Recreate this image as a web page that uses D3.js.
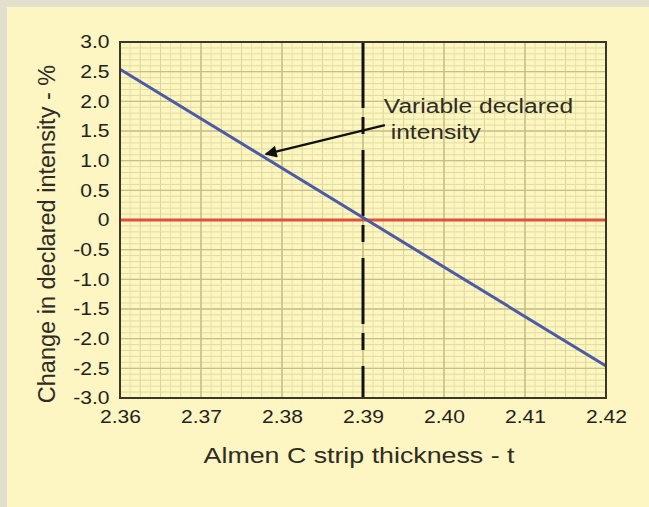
<!DOCTYPE html>
<html>
<head>
<meta charset="utf-8">
<script src="https://cdn.jsdelivr.net/npm/d3@7"></script>
<style>
  body { margin: 0; background: #fff; }
  svg { display: block; font-family: "Liberation Sans", Arial, sans-serif; }
</style>
</head>
<body>
<div id="chart"></div>
<script>
var width = 649,
    height = 507;

var margin = {top: 42, right: 43, bottom: 109, left: 120};

// data
var xDomain = [2.36, 2.42];
var yDomain = [-3.0, 3.0];
var xTicks = [2.36, 2.37, 2.38, 2.39, 2.40, 2.41, 2.42];
var yTicks = [3.0, 2.5, 2.0, 1.5, 1.0, 0.5, 0, -0.5, -1.0, -1.5, -2.0, -2.5, -3.0];
var lineX = [2.36, 2.42];
var lineY = [2.54, -2.46];          // variable declared intensity
var zeroY = [0, 0];                 // reference line
var markerX = 2.39;                 // dashed vertical
var arrowFrom = [2.3927, 1.60];
var arrowTo = [2.3780, 1.11];
var noteLines = ["Variable declared", " intensity"];

// the source picture is a bit wider than tall, so text gets stretched
var stretch = 1.17;

var svg = d3.select("#chart")
  .append("svg")
    .attr("width", width)
    .attr("height", height);

// outer frame
svg.append("rect").attr("width", width).attr("height", height).attr("fill", "#e2e0cc");
svg.append("rect").attr("x", 7).attr("y", 7).attr("width", width - 7).attr("height", height - 7).attr("fill", "#fdf5c2");

var iw = width - margin.left - margin.right,
    ih = height - margin.top - margin.bottom;

var x = d3.scaleLinear().domain(xDomain).range([0, iw]);
var y = d3.scaleLinear().domain(yDomain).range([ih, 0]);

var g = svg.append("g")
  .attr("transform", "translate(" + margin.left + "," + margin.top + ")");

g.append("rect").attr("width", iw).attr("height", ih).attr("fill", "#fcf6c0");

// minor grid
var xMinor = d3.range(0, 49).map(function(i) { return xDomain[0] + i * 0.00125; });
var yMinor = d3.range(0, 61).map(function(i) { return yDomain[0] + i * 0.1; });

g.selectAll(".vmin").data(xMinor).enter().append("line")
  .attr("x1", function(d) { return x(d); }).attr("x2", function(d) { return x(d); })
  .attr("y1", 0).attr("y2", ih)
  .attr("stroke", function(d, i) { return i % 2 === 0 ? "#dcd498" : "#e9e2ac"; })
  .attr("stroke-width", 1);

g.selectAll(".hmin").data(yMinor).enter().append("line")
  .attr("x1", 0).attr("x2", iw)
  .attr("y1", function(d) { return y(d); }).attr("y2", function(d) { return y(d); })
  .attr("stroke", "#e3dba2")
  .attr("stroke-width", 1);

// major grid
g.selectAll(".vmaj").data(xTicks).enter().append("line")
  .attr("x1", function(d) { return x(d); }).attr("x2", function(d) { return x(d); })
  .attr("y1", 0).attr("y2", ih)
  .attr("stroke", "#c4bb84")
  .attr("stroke-width", 1.3);

g.selectAll(".hmaj").data(yTicks).enter().append("line")
  .attr("x1", 0).attr("x2", iw)
  .attr("y1", function(d) { return y(d); }).attr("y2", function(d) { return y(d); })
  .attr("stroke", "#c8bf88")
  .attr("stroke-width", 1.3);

// axes (labels only)
var yFmt = function(d) { return d === 0 ? "0" : d3.format(".1f")(d).replace("\u2212", "-"); };

var xAxis = g.append("g")
  .attr("transform", "translate(0," + ih + ")")
  .call(d3.axisBottom(x).tickValues(xTicks).tickFormat(d3.format(".2f")).tickSize(0).tickPadding(14));
var yAxis = g.append("g")
  .call(d3.axisLeft(y).tickValues(yTicks).tickFormat(yFmt).tickSize(0).tickPadding(9));

[xAxis, yAxis].forEach(function(a) {
  a.select(".domain").remove();
  a.selectAll("text")
    .attr("fill", "#24221c")
    .attr("transform", "scale(" + stretch + ",1)")
    .style("font-size", "18px")
    .style("font-family", "Liberation Sans, Arial, sans-serif");
});
xAxis.selectAll("text").attr("dy", "0.62em");

// zero line
var line = d3.line()
  .x(function(d) { return x(d[0]); })
  .y(function(d) { return y(d[1]); });

g.append("path")
  .datum(lineX.map(function(v, i) { return [v, zeroY[i]]; }))
  .attr("d", line)
  .attr("fill", "none")
  .attr("stroke", "#e0503c")
  .attr("stroke-width", 3);

// dashed marker
g.append("line")
  .attr("x1", x(markerX)).attr("x2", x(markerX))
  .attr("y1", 0).attr("y2", ih)
  .attr("stroke", "#111")
  .attr("stroke-width", 3)
  .attr("stroke-dasharray", "66,9,17,16");

// declared intensity line
g.append("path")
  .datum(lineX.map(function(v, i) { return [v, lineY[i]]; }))
  .attr("d", line)
  .attr("fill", "none")
  .attr("stroke", "#4d5aa6")
  .attr("stroke-width", 3);

// border
g.append("rect").attr("width", iw).attr("height", ih)
  .attr("fill", "none").attr("stroke", "#3a372a").attr("stroke-width", 2);

// annotation arrow
svg.append("defs").append("marker")
  .attr("id", "arrow")
  .attr("viewBox", "0 0 10 10")
  .attr("refX", 9).attr("refY", 5)
  .attr("markerWidth", 7).attr("markerHeight", 5.5)
  .attr("orient", "auto")
  .append("path").attr("d", "M0,0L10,5L0,10z").attr("fill", "#111");

g.append("line")
  .attr("x1", x(arrowFrom[0])).attr("y1", y(arrowFrom[1]))
  .attr("x2", x(arrowTo[0])).attr("y2", y(arrowTo[1]))
  .attr("stroke", "#111")
  .attr("stroke-width", 2.2)
  .attr("marker-end", "url(#arrow)");

var note = g.append("text")
  .attr("transform", "translate(" + (x(arrowFrom[0]) - 1) + "," + (y(arrowFrom[1]) - 12) + ") scale(" + stretch + ",1)")
  .attr("fill", "#2e2c24")
  .style("font-size", "21px");
note.selectAll("tspan").data(noteLines).enter().append("tspan")
  .attr("x", 0)
  .attr("dy", function(d, i) { return i === 0 ? 0 : 26; })
  .style("white-space", "pre")
  .text(function(d) { return d; });

// axis titles
svg.append("text")
  .attr("transform", "translate(" + (margin.left + iw / 2 - 4) + ",463) scale(" + (stretch + 0.02) + ",1)")
  .attr("text-anchor", "middle")
  .attr("fill", "#2e2c24")
  .style("font-size", "22.5px")
  .text("Almen C strip thickness - t");

svg.append("text")
  .attr("transform", "translate(55," + (margin.top + ih / 2 + 14) + ") rotate(-90)")
  .attr("text-anchor", "middle")
  .attr("fill", "#2e2c24")
  .style("font-size", "23.5px")
  .text("Change in declared intensity - %");
</script>
</body>
</html>
